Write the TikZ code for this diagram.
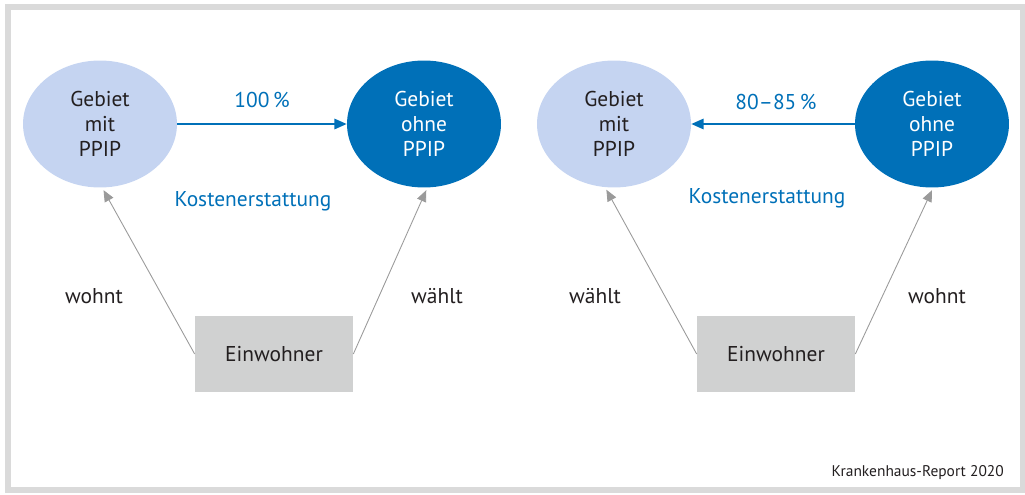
\documentclass[tikz,border=0pt]{standalone}
\usepackage{fontspec}
\setmainfont{PT Sans}
\usetikzlibrary{arrows.meta,shapes.geometric}

\definecolor{ink}{HTML}{231F20}
\definecolor{lightblue}{HTML}{C5D4F1}
\definecolor{darkblue}{HTML}{0070B8}
\definecolor{boxgray}{HTML}{D0D1D1}
\definecolor{arrowgray}{HTML}{9A9A9A}
\definecolor{framegray}{HTML}{DADADA}

\begin{document}
\begin{tikzpicture}[%
  x=0.02cm, y=-0.02cm,
  every node/.style = {font=\fontsize{12.2}{14.2}\selectfont, text=ink},
  mit/.style = {ellipse, fill=lightblue, minimum width=3.08cm,
                minimum height=2.54cm, inner sep=0pt, align=center},
  ohne/.style = {mit, fill=darkblue, text=white},
  einw/.style = {rectangle, fill=boxgray, minimum width=3.16cm,
                 minimum height=1.52cm},
  note/.style = {text=darkblue},
  flow/.style = {draw=darkblue, line width=0.85pt,
                 -{Triangle[length=7pt,width=6pt]}},
  lives/.style = {draw=arrowgray, line width=0.5pt, shorten >=1.5pt,
                  -{Triangle[length=6.5pt,width=5.5pt]}},
]

  \useasboundingbox (0,0) rectangle (1025,494);
  \draw[framegray, line width=0.12cm] (8,7) rectangle (1023,490);

  % left: 100 %
  \node[mit]  (g1) at (100,124) {Gebiet\\mit\\PPIP};
  \node[ohne] (g2) at (424,124) {Gebiet\\ohne\\PPIP};
  \node[einw] (e1) at (274,354) {Einwohner};

  \draw[flow] (g1) -- (g2);
  \node[note] (p1) at (262,100) {100\,\%};
  \node[note] (k1) at (253,201) {Kostenerstattung};

  \draw[lives] (e1.west) -- (g1.-88);
  \draw[lives] (e1.east) -- (g2.-87);
  \node (w1) at (94,296) {wohnt};
  \node (w2) at (437,296) {wählt};

  % right: 80--85 %
  \node[mit]  (g3) at (614,124) {Gebiet\\mit\\PPIP};
  \node[ohne] (g4) at (932,124) {Gebiet\\ohne\\PPIP};
  \node[einw] (e2) at (776,354) {Einwohner};

  \draw[flow] (g4) -- (g3);
  \node[note] (p2) at (776,102) {80--85\,\%};
  \node[note] (k2) at (767,198) {Kostenerstattung};

  \draw[lives] (e2.west) -- (g3.-98);
  \draw[lives] (e2.east) -- (g4.-89);
  \node (w3) at (595,296) {wählt};
  \node (w4) at (937,296) {wohnt};

  \node[anchor=east, font=\fontsize{8.8}{11}\selectfont] (src) at (1010,473)
    {Krankenhaus-Report 2020};

\end{tikzpicture}
\end{document}
